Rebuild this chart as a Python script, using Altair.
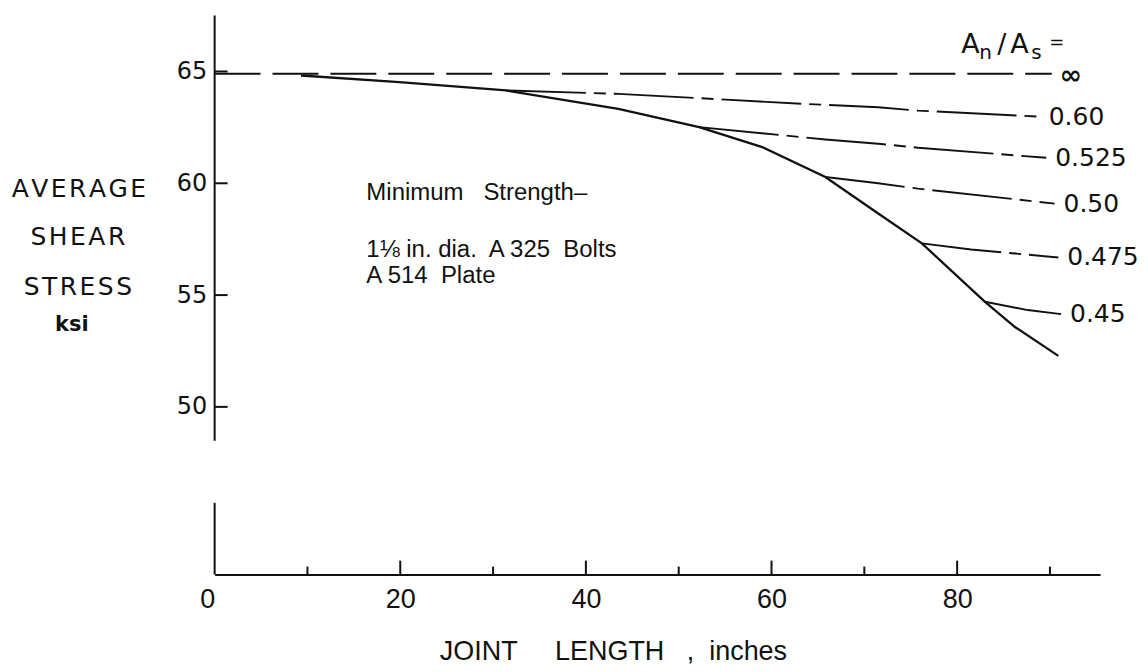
import altair as alt
import pandas as pd

# ---- data ----
main_x = [9.3, 19.9, 31.4, 43.5, 52.2, 59.0, 65.8, 71.5, 76.2, 83.0, 86.2, 90.9]
main_y = [64.82, 64.52, 64.15, 63.33, 62.51, 61.62, 60.28, 58.65, 57.31, 54.70, 53.58, 52.28]

inf_x = [0.0, 90.2]
inf_y = [64.9, 64.9]

b060_x = [31.4, 43.5, 63.6, 71.5, 75.8, 88.9]
b060_y = [64.15, 64.0, 63.55, 63.4, 63.25, 62.98]
b0525_x = [52.2, 65.8, 71.5, 75.8, 89.6]
b0525_y = [62.51, 61.96, 61.77, 61.59, 61.14]
b050_x = [65.8, 71.5, 75.8, 90.5]
b050_y = [60.28, 60.0, 59.76, 59.09]
b0475_x = [76.2, 81.5, 90.9]
b0475_y = [57.31, 57.04, 56.68]
b045_x = [83.0, 87.6, 91.2]
b045_y = [54.70, 54.33, 54.15]

ratio_labels = ["0.60", "0.525", "0.50", "0.475", "0.45"]
inf_label = "\u221e"

y_tick_values = [50, 55, 60, 65]
x_label_values = [0, 20, 40, 60, 80]
x_major_ticks = [20, 40, 60, 80]
x_minor_ticks = [10, 30, 50, 70, 90]

# axis pieces (broken y axis)
axis_seg_x = [0, 0]
axis_seg_y1 = [48.48, 42.5]
axis_seg_y2 = [67.5, 45.71]

X_DOMAIN = [0, 95.4]
Y_DOMAIN = [42.5, 67.5]
W, H = 887, 560
BLACK = "#111111"
NB = "\u00a0"
HS = "\u200a"

xs = alt.Scale(domain=X_DOMAIN, nice=False, zero=False)
ys = alt.Scale(domain=Y_DOMAIN, nice=False, zero=False)

x_axis = alt.Axis(
    values=x_label_values, ticks=False, grid=False, domain=True,
    domainColor=BLACK, domainWidth=2,
    labelFont="Liberation Sans", labelFontSize=27, labelColor=BLACK,
    labelPadding=12, labelFlush=False,
    labelAlign={"condition": {"test": "datum.value === 0", "value": "right"}, "value": "center"},
    title="JOINT" + NB * 5 + "LENGTH" + NB * 3 + "," + NB * 2 + "inches",
    titleFont="Liberation Sans", titleFontSize=27,
    titleFontWeight="normal", titleColor=BLACK, titleX=399, titleY=77,
    titleBaseline="middle", titleAlign="center",
)
y_axis = alt.Axis(
    values=y_tick_values, ticks=False, grid=False, domain=False,
    labelFont="DejaVu Sans", labelFontSize=24, labelColor=BLACK, labelPadding=8,
    title=None,
)


def X(field):
    return alt.X(field, type="quantitative", scale=xs, axis=x_axis)


def Y(field):
    return alt.Y(field, type="quantitative", scale=ys, axis=y_axis)


main_df = pd.DataFrame({"x": main_x, "y": main_y})
inf_df = pd.DataFrame({"x": inf_x, "y": inf_y})

branch_xs = [b060_x, b0525_x, b050_x, b0475_x, b045_x]
branch_ys = [b060_y, b0525_y, b050_y, b0475_y, b045_y]
rows = []
for lab, bx, by in zip(ratio_labels, branch_xs, branch_ys):
    for i, (a, b) in enumerate(zip(bx, by)):
        rows.append({"ratio": lab, "x": a, "y": b, "i": i})
branch_df = pd.DataFrame(rows)
end_df = pd.DataFrame({
    "ratio": ratio_labels,
    "x": [bx[-1] for bx in branch_xs],
    "y": [by[-1] for by in branch_ys],
})
inf_end_df = pd.DataFrame({"t": [inf_label], "x": [inf_x[-1]], "y": [inf_y[-1]]})

main_line = alt.Chart(main_df).mark_line(color=BLACK, strokeWidth=2.3).encode(
    x=X("x"), y=Y("y"))
inf_line = alt.Chart(inf_df).mark_line(color=BLACK, strokeWidth=2, strokeDash=[46, 12]).encode(
    x=X("x"), y=Y("y"))
branches = alt.Chart(branch_df).mark_line(
    color=BLACK, strokeWidth=1.9, strokeDash=[80, 8, 12, 8]).encode(
    x=X("x"), y=Y("y"), detail="ratio:N", order="i:Q")
end_labels = alt.Chart(end_df).mark_text(
    align="left", baseline="middle", dx=9, font="DejaVu Sans", fontSize=25, color=BLACK
).encode(x=X("x"), y=Y("y"), text="ratio:N")
inf_text = alt.Chart(inf_end_df).mark_text(
    align="left", baseline="middle", dx=8, dy=2, font="DejaVu Sans", fontSize=27,
    fontWeight="bold", color=BLACK
).encode(x=X("x"), y=Y("y"), text="t:N")

seg_df = pd.DataFrame({"x": axis_seg_x, "y1": axis_seg_y1, "y2": axis_seg_y2})
axis_segs = alt.Chart(seg_df).mark_rule(color=BLACK, strokeWidth=2).encode(
    x=X("x"), y=Y("y1"), y2="y2:Q")

yt = alt.Chart(pd.DataFrame({"v": y_tick_values})).mark_rule(color=BLACK, strokeWidth=2).encode(
    y=Y("v"), x=alt.value(0), x2=alt.value(13))
xt_major = alt.Chart(pd.DataFrame({"v": x_major_ticks})).mark_rule(color=BLACK, strokeWidth=2).encode(
    x=X("v"), y=alt.value(H), y2=alt.value(H - 14))
xt_minor = alt.Chart(pd.DataFrame({"v": x_minor_ticks})).mark_rule(color=BLACK, strokeWidth=2).encode(
    x=X("v"), y=alt.value(H), y2=alt.value(H - 8))


def note(text, x, y, size, font="Liberation Sans", align="left", baseline="middle", weight="normal"):
    return alt.Chart(pd.DataFrame({"t": [text]})).mark_text(
        align=align, baseline=baseline, font=font, fontSize=size, fontWeight=weight, color=BLACK
    ).encode(x=alt.value(x), y=alt.value(y), text="t:N")


notes = [
    note("Minimum" + NB * 3 + "Strength\u2013", 152, 178, 24),
    note("1\u215b in. dia." + NB + " A 325" + NB + " Bolts", 152, 235, 24),
    note("A 514" + NB + " Plate", 152, 261, 24),
    note(HS.join("AVERAGE"), -136, 174, 25, font="DejaVu Sans", align="center"),
    note(HS.join("SHEAR"), -137, 222, 25, font="DejaVu Sans", align="center"),
    note(HS.join("STRESS"), -137, 272, 25, font="DejaVu Sans", align="center"),
    note("ksi", -143, 310, 21, font="DejaVu Sans", align="center", weight="bold"),
    # header  A_n / A_s =
    note("A", 748, 37, 27, font="DejaVu Sans", baseline="alphabetic"),
    note("n", 766, 44, 20, font="DejaVu Sans", baseline="alphabetic"),
    note("/", 784, 37, 27, font="DejaVu Sans", baseline="alphabetic"),
    note("A", 797, 37, 27, font="DejaVu Sans", baseline="alphabetic"),
    note("s", 818, 44, 20, font="DejaVu Sans", baseline="alphabetic"),
    note("=", 836, 27, 18, font="DejaVu Sans"),
]

chart = alt.layer(
    axis_segs, yt, xt_major, xt_minor, inf_line, branches, main_line, end_labels, inf_text, *notes
).properties(
    width=W, height=H,
    autosize=alt.AutoSizeParams(type="none"),
    padding={"left": 207, "top": 7, "right": 40, "bottom": 94},
    background="white",
).configure_view(stroke=None)

chart.save("out.html", embed_options={"renderer": "svg", "actions": False})
